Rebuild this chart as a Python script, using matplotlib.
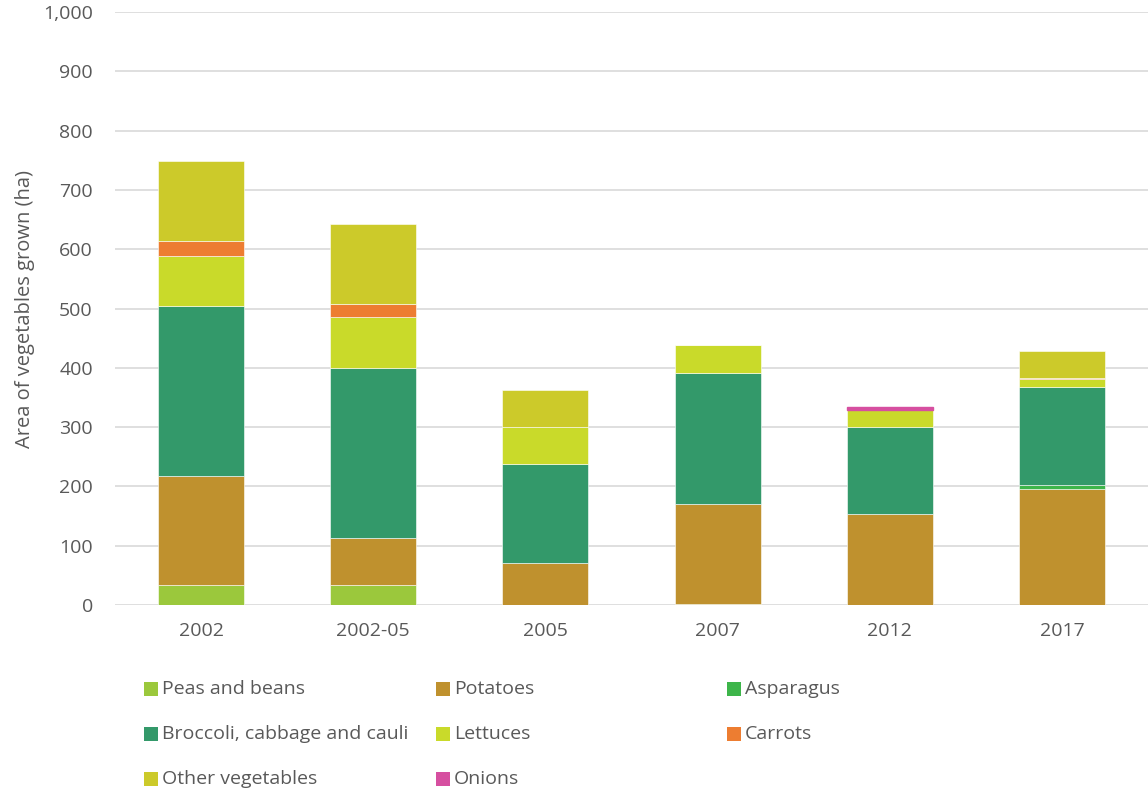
import matplotlib
matplotlib.use("Agg")
import matplotlib.pyplot as plt
from matplotlib.patches import Rectangle
import numpy as np

plt.rcParams['font.family'] = ['Open Sans', 'DejaVu Sans']

categories = ["2002", "2002-05", "2005", "2007", "2012", "2017"]
series_names = ["Peas and beans", "Potatoes", "Asparagus",
                "Broccoli, cabbage and cauli", "Lettuces", "Carrots",
                "Other vegetables", "Onions"]
peas = [33, 33, 0, 2, 0, 0]
potatoes = [185, 80, 71, 169, 153, 195]
asparagus = [0, 0, 0, 0, 0, 8]
broccoli = [287, 287, 167, 220, 148, 164]
lettuces = [84, 85, 62, 47, 27, 14]
carrots = [24, 23, 0, 0, 0, 2]
other = [135, 135, 62, 1, 0, 45]
onions = [0, 0, 0, 0, 6, 0]
colors = ["#9BC83C", "#BF912E", "#3DB54A", "#33996A", "#C9DA2A", "#ED7D31",
          "#CCCA2A", "#D64FA0"]
yticks = [0, 100, 200, 300, 400, 500, 600, 700, 800, 900, 1000]

data = [peas, potatoes, asparagus, broccoli, lettuces, carrots, other, onions]

fig = plt.figure(figsize=(11.48, 7.94), dpi=100)
ax = fig.add_axes([115/1148, 1-605/794, 1-115/1148, (605-12)/794])

x = np.arange(len(categories))
bottom = np.zeros(len(categories))
for name, vals, c in zip(series_names, data, colors):
    vals = np.array(vals, dtype=float)
    if name == "Onions":
        edge = [c if v > 0 else 'none' for v in vals]
        lw = 1.0
    else:
        edge = ["#ffffff" if v > 0 else 'none' for v in vals]
        lw = 0.4
    ax.bar(x, vals, 0.5, bottom=bottom, color=c, edgecolor=edge,
           linewidth=lw, zorder=3, label=name)
    bottom += vals

ax.set_xlim(-0.5, len(categories)-0.5)
ax.set_ylim(0, 1000)
ax.set_yticks(yticks)
ax.set_yticklabels([f"{v:,}" for v in yticks])
ax.set_xticks(x)
ax.set_xticklabels(categories)
ax.tick_params(axis='both', length=0, labelsize=14, colors="#595959")
ax.tick_params(axis='y', pad=16)
ax.tick_params(axis='x', pad=12)
ax.grid(axis='y', color="#D9D9D9", linewidth=1.2, zorder=0)
for s in ax.spines.values():
    s.set_visible(False)
ax.set_ylabel("Area of vegetables grown (ha)", fontsize=14.5, color="#595959", labelpad=6)

# legend laid out like the reference (row-major, 3 columns)
col_x = [144, 436, 727]
row_y = [689, 734, 779]
for i, (name, c) in enumerate(zip(series_names, colors)):
    r, cl = divmod(i, 3)
    px, py = col_x[cl], row_y[r]
    fig.patches.append(Rectangle((px/1148, 1-(py+7)/794), 14/1148, 14/794,
                                 transform=fig.transFigure, facecolor=c, edgecolor='none'))
    fig.text((px+18)/1148, 1-py/794, name, fontsize=14, color="#595959",
             va='center', ha='left')

fig.savefig("out.png", dpi=100)
